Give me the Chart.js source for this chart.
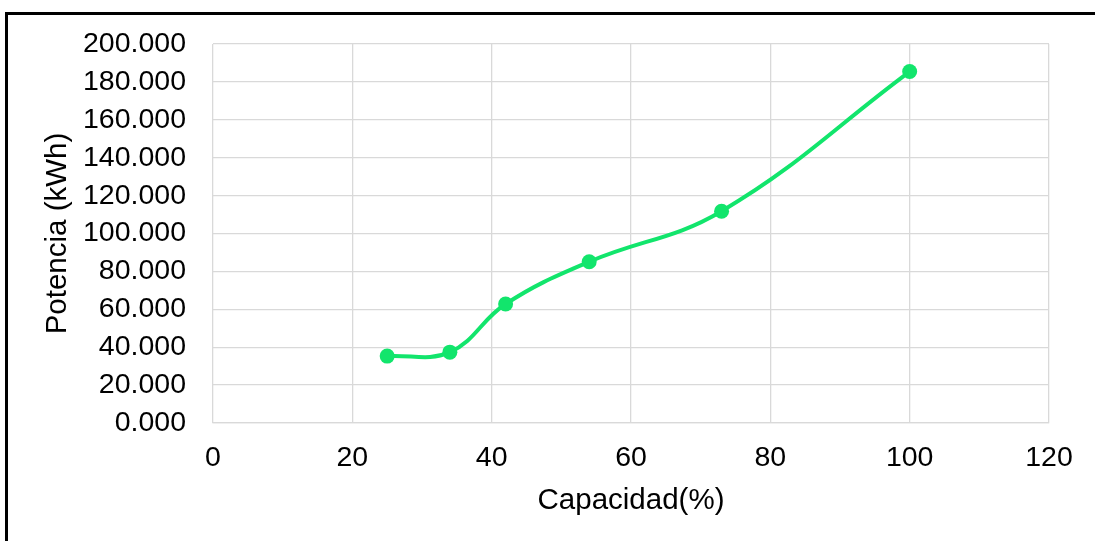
<!DOCTYPE html>
<html>
<head>
<meta charset="utf-8">
<script src="https://cdn.jsdelivr.net/npm/chart.js@4"></script>
<style>
  html, body { margin: 0; padding: 0; background: #fff; overflow: hidden; }
  #wrap { position: relative; width: 1095px; height: 541px; }
  #frame {
    position: absolute; left: 5px; top: 12px; width: 2000px; height: 2000px;
    border-top: 3px solid #000; border-left: 3px solid #000; box-sizing: border-box;
    pointer-events: none;
  }
  canvas { position: absolute; left: 0; top: 0; }
</style>
</head>
<body>
<div id="wrap">
  <canvas id="c" width="1095" height="541"></canvas>
  <div id="frame"></div>
</div>
<script>
// Capacity (%) against power (kWh)
const capacidad = [25, 34, 42, 54, 73, 100];
const potencia = [35.3, 37.4, 62.8, 85.1, 111.8, 185.5];
const xTicks = [0, 20, 40, 60, 80, 100, 120];
const yTicks = [0, 20, 40, 60, 80, 100, 120, 140, 160, 180, 200];

const FONT = "'Liberation Sans', Arial, sans-serif";
const GREEN = '#12E56C';
const GRID = '#D9D9D9';

const points = capacidad.map((x, i) => ({ x: x, y: potencia[i] }));

new Chart(document.getElementById('c'), {
  type: 'line',
  data: {
    datasets: [{
      data: points,
      borderColor: GREEN,
      backgroundColor: GREEN,
      borderWidth: 4,
      pointRadius: 7.5,
      pointBorderWidth: 0,
      pointBackgroundColor: GREEN,
      tension: 0.4,
      fill: false
    }]
  },
  options: {
    responsive: false,
    animation: false,
    events: [],
    layout: { padding: { left: 0, top: 43, right: 46, bottom: 0 } },
    plugins: { legend: { display: false }, tooltip: { enabled: false } },
    scales: {
      x: {
        type: 'linear',
        min: xTicks[0],
        max: xTicks[xTicks.length - 1],
        afterBuildTicks: s => { s.ticks = xTicks.map(v => ({ value: v })); },
        afterFit: s => { s.height = 541 - 423; },
        grid: { color: GRID, lineWidth: 1.3, drawTicks: false },
        border: { display: true, color: GRID, width: 1.3 },
        ticks: { color: '#000', font: { family: FONT, size: 28.5 }, padding: 18, maxRotation: 0 },
        title: {
          display: true, text: 'Capacidad(%)', color: '#000',
          font: { family: FONT, size: 29.5 }, padding: { top: 0, bottom: 22 }
        }
      },
      y: {
        min: yTicks[0],
        max: yTicks[yTicks.length - 1],
        afterBuildTicks: s => { s.ticks = yTicks.map(v => ({ value: v })); },
        afterFit: s => { s.width = 213; },
        grid: { color: GRID, lineWidth: 1.3, drawTicks: false },
        border: { display: false },
        ticks: {
          color: '#000', font: { family: FONT, size: 28.5 }, padding: 27,
          callback: v => v.toFixed(3)
        },
        title: {
          display: true, text: 'Potencia (kWh)', color: '#000',
          font: { family: FONT, size: 29.5 }, padding: { top: 40, bottom: 0 }
        }
      }
    }
  }
});
</script>
</body>
</html>
